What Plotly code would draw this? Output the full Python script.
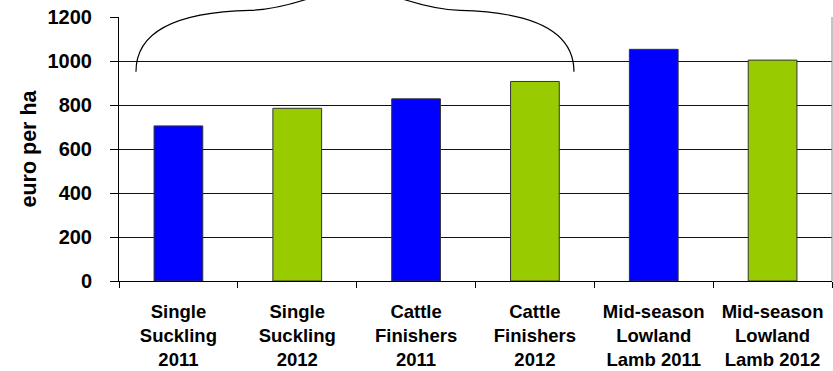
import plotly.graph_objects as go

# Gross margin per hectare by enterprise and year
categories = [
    "Single<br>Suckling<br>2011",
    "Single<br>Suckling<br>2012",
    "Cattle<br>Finishers<br>2011",
    "Cattle<br>Finishers<br>2012",
    "Mid-season<br>Lowland<br>Lamb 2011",
    "Mid-season<br>Lowland<br>Lamb 2012",
]
values = [705, 785, 828, 907, 1053, 1004]
years = [2011, 2012, 2011, 2012, 2011, 2012]

year_colours = {2011: "#0000FF", 2012: "#99CC00"}
bar_colours = [year_colours[y] for y in years]

FONT = "Liberation Sans, Arial, sans-serif"

fig = go.Figure(
    go.Bar(
        x=categories,
        y=values,
        marker=dict(color=bar_colours, line=dict(color="#333333", width=1)),
        width=0.41,
    )
)


def brace_path(cx, pts):
    """Curly brace centred at cx (paper units); pts are the left half's
    start point and cubic control points as (dx, y) pairs, mirrored for
    the right half."""
    def p(dx, y):
        return f"{cx + dx:.4f},{y:.4f}"

    (sx, sy), rest = pts[0], pts[1:]
    d = f"M {p(sx, sy)}"
    for i in range(0, len(rest), 3):
        d += " C " + " ".join(p(dx, y) for dx, y in rest[i:i + 3])
    # mirrored right half, walking back out from the peak
    rev = list(reversed(pts))
    for i in range(0, len(rev) - 1, 3):
        d += " C " + " ".join(p(-dx, y) for dx, y in rev[i + 1:i + 4])
    return d


W = 713.0
brace_pts = [
    (-219 / W, 0.793),
    (-219 / W, 0.931), (-185 / W, 1.018), (-105 / W, 1.025),
    (-75 / W, 1.029), (-25 / W, 1.082), (0.0, 1.158),
]

fig.add_shape(
    type="path",
    xref="paper", yref="paper",
    path=brace_path((355 - 119) / W, brace_pts),
    line=dict(color="#000000", width=1.2),
    layer="above",
)

# right-hand border of the plot area
fig.add_shape(
    type="line", xref="paper", yref="paper",
    x0=1, x1=1, y0=0, y1=1,
    line=dict(color="#888888", width=1),
)

fig.update_layout(
    width=833,
    height=371,
    margin=dict(l=119, r=1, t=17, b=90),
    paper_bgcolor="white",
    plot_bgcolor="white",
    showlegend=False,
    bargap=0.59,
    font=dict(family=FONT, color="#000000"),
    xaxis=dict(
        showline=True,
        linecolor="#000000",
        linewidth=1,
        ticks="outside",
        ticklen=6,
        tickcolor="#000000",
        tickson="boundaries",
        tickfont=dict(family=FONT, size=18.5, color="#000000", weight="bold"),
        ticklabelstandoff=14,
        showgrid=False,
        fixedrange=True,
    ),
    yaxis=dict(
        range=[0, 1200],
        dtick=200,
        showline=True,
        linecolor="#000000",
        linewidth=1,
        ticks="outside",
        ticklen=8,
        tickcolor="#000000",
        tickfont=dict(family=FONT, size=20, color="#000000", weight="bold"),
        ticklabelstandoff=14,
        showgrid=True,
        gridcolor="#111111",
        gridwidth=1,
        zeroline=False,
        title=dict(
            text="euro per ha",
            font=dict(family=FONT, size=21.5, color="#000000", weight="bold"),
            standoff=4,
        ),
        fixedrange=True,
    ),
)

fig.write_html("out.html")
